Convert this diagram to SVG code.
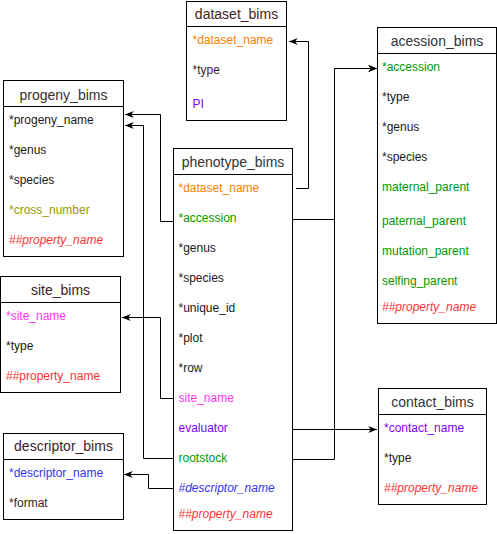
<svg xmlns="http://www.w3.org/2000/svg" width="497" height="534" viewBox="0 0 497 534">
<defs>
<style>
.box{fill:#fff;stroke:#000;stroke-width:1}
.hl{stroke:#000;stroke-width:1}
.t{font-family:"Liberation Sans",Arial,Helvetica,sans-serif;font-size:14px;fill:#333;text-anchor:middle}
.r{font-family:"Liberation Sans",Arial,Helvetica,sans-serif;font-size:12px;fill:#1a1a1a}
.m{fill:#402222}
.or{fill:#FF8000}
.gr{fill:#009900}
.pu{fill:#7F00FF}
.ol{fill:#999900}
.rd{fill:#FF3333}
.mg{fill:#FF33FF}
.bl{fill:#3333EE}
.it{font-style:italic}
.c{fill:none;stroke:#000;stroke-width:1;marker-end:url(#ah)}
</style>
<marker id="ah" viewBox="0 0 10 8" markerWidth="9" markerHeight="7" refX="10" refY="4" orient="auto" markerUnits="userSpaceOnUse">
<path d="M0,0 L10,4 L0,8 L3,4 Z" fill="#000"/>
</marker>
</defs>

<g id="connectors">
<path class="c" d="M296,188.5 H308.5 V41.5 H289"/>
<path class="c" d="M292,219.5 H334.5 V68.5 H377"/>
<path class="c" d="M292,459.5 H334.5 V68.5 H377"/>
<path class="c" d="M292,429.5 H377"/>
<path class="c" d="M173,221.5 H160.5 V114.5 H125"/>
<path class="c" d="M173,458.5 H143.5 V125.5 H125"/>
<path class="c" d="M173,398.5 H160.5 V317.5 H122"/>
<path class="c" d="M173,488.5 H148.5 V474.5 H124"/>
</g>

<g id="dataset_bims">
<rect class="box" x="186.5" y="1.5" width="100" height="119"/>
<line class="hl" x1="186.5" y1="26.5" x2="286.5" y2="26.5"/>
<text class="t m" x="236.5" y="19">dataset_bims</text>
<text class="r or" x="192.5" y="44">*dataset_name</text>
<text class="r m" x="192.5" y="74">*type</text>
<text class="r pu" x="192.5" y="108">PI</text>
</g>

<g id="progeny_bims">
<rect class="box" x="3.5" y="80.5" width="120" height="176"/>
<line class="hl" x1="3.5" y1="106.5" x2="123.5" y2="106.5"/>
<text class="t" x="63.5" y="100">progeny_bims</text>
<text class="r" x="9" y="124">*progeny_name</text>
<text class="r" x="9" y="154">*genus</text>
<text class="r" x="9" y="184">*species</text>
<text class="r ol" x="9" y="214">*cross_number</text>
<text class="r rd it" x="9" y="244">##property_name</text>
</g>

<g id="phenotype_bims">
<rect class="box" x="173.5" y="148.5" width="119" height="382"/>
<line class="hl" x1="173.5" y1="174.5" x2="292.5" y2="174.5"/>
<text class="t" x="233" y="167">phenotype_bims</text>
<text class="r or" x="178.5" y="192">*dataset_name</text>
<text class="r gr" x="178.5" y="222">*accession</text>
<text class="r" x="178.5" y="252">*genus</text>
<text class="r" x="178.5" y="282">*species</text>
<text class="r" x="178.5" y="312">*unique_id</text>
<text class="r" x="178.5" y="342">*plot</text>
<text class="r" x="178.5" y="372">*row</text>
<text class="r mg" x="178.5" y="402">site_name</text>
<text class="r pu" x="178.5" y="432">evaluator</text>
<text class="r gr" x="178.5" y="462">rootstock</text>
<text class="r bl it" x="178.5" y="492">#descriptor_name</text>
<text class="r rd it" x="178.5" y="518">##property_name</text>
</g>

<g id="acession_bims">
<rect class="box" x="377.5" y="27.5" width="119" height="296"/>
<line class="hl" x1="377.5" y1="53.5" x2="496.5" y2="53.5"/>
<text class="t" x="437" y="46">acession_bims</text>
<text class="r gr" x="382" y="71">*accession</text>
<text class="r" x="382" y="101">*type</text>
<text class="r" x="382" y="131">*genus</text>
<text class="r" x="382" y="161">*species</text>
<text class="r gr" x="382" y="191">maternal_parent</text>
<text class="r gr" x="382" y="225">paternal_parent</text>
<text class="r gr" x="382" y="255">mutation_parent</text>
<text class="r gr" x="382" y="285">selfing_parent</text>
<text class="r rd it" x="382" y="311">##property_name</text>
</g>

<g id="site_bims">
<rect class="box" x="0.5" y="276.5" width="120" height="116"/>
<line class="hl" x1="0.5" y1="302.5" x2="120.5" y2="302.5"/>
<text class="t m" x="60.5" y="295">site_bims</text>
<text class="r mg" x="6" y="320">*site_name</text>
<text class="r" x="6" y="350">*type</text>
<text class="r rd" x="6" y="380">##property_name</text>
</g>

<g id="descriptor_bims">
<rect class="box" x="3.5" y="433.5" width="120" height="86"/>
<line class="hl" x1="3.5" y1="459.5" x2="123.5" y2="459.5"/>
<text class="t m" x="63.5" y="451">descriptor_bims</text>
<text class="r bl" x="9" y="477">*descriptor_name</text>
<text class="r m" x="9" y="507">*format</text>
</g>

<g id="contact_bims">
<rect class="box" x="378.5" y="388.5" width="108" height="116"/>
<line class="hl" x1="378.5" y1="414.5" x2="486.5" y2="414.5"/>
<text class="t" x="432.5" y="407">contact_bims</text>
<text class="r pu" x="384" y="432">*contact_name</text>
<text class="r" x="384" y="462">*type</text>
<text class="r rd it" x="384" y="492">##property_name</text>
</g>
</svg>
